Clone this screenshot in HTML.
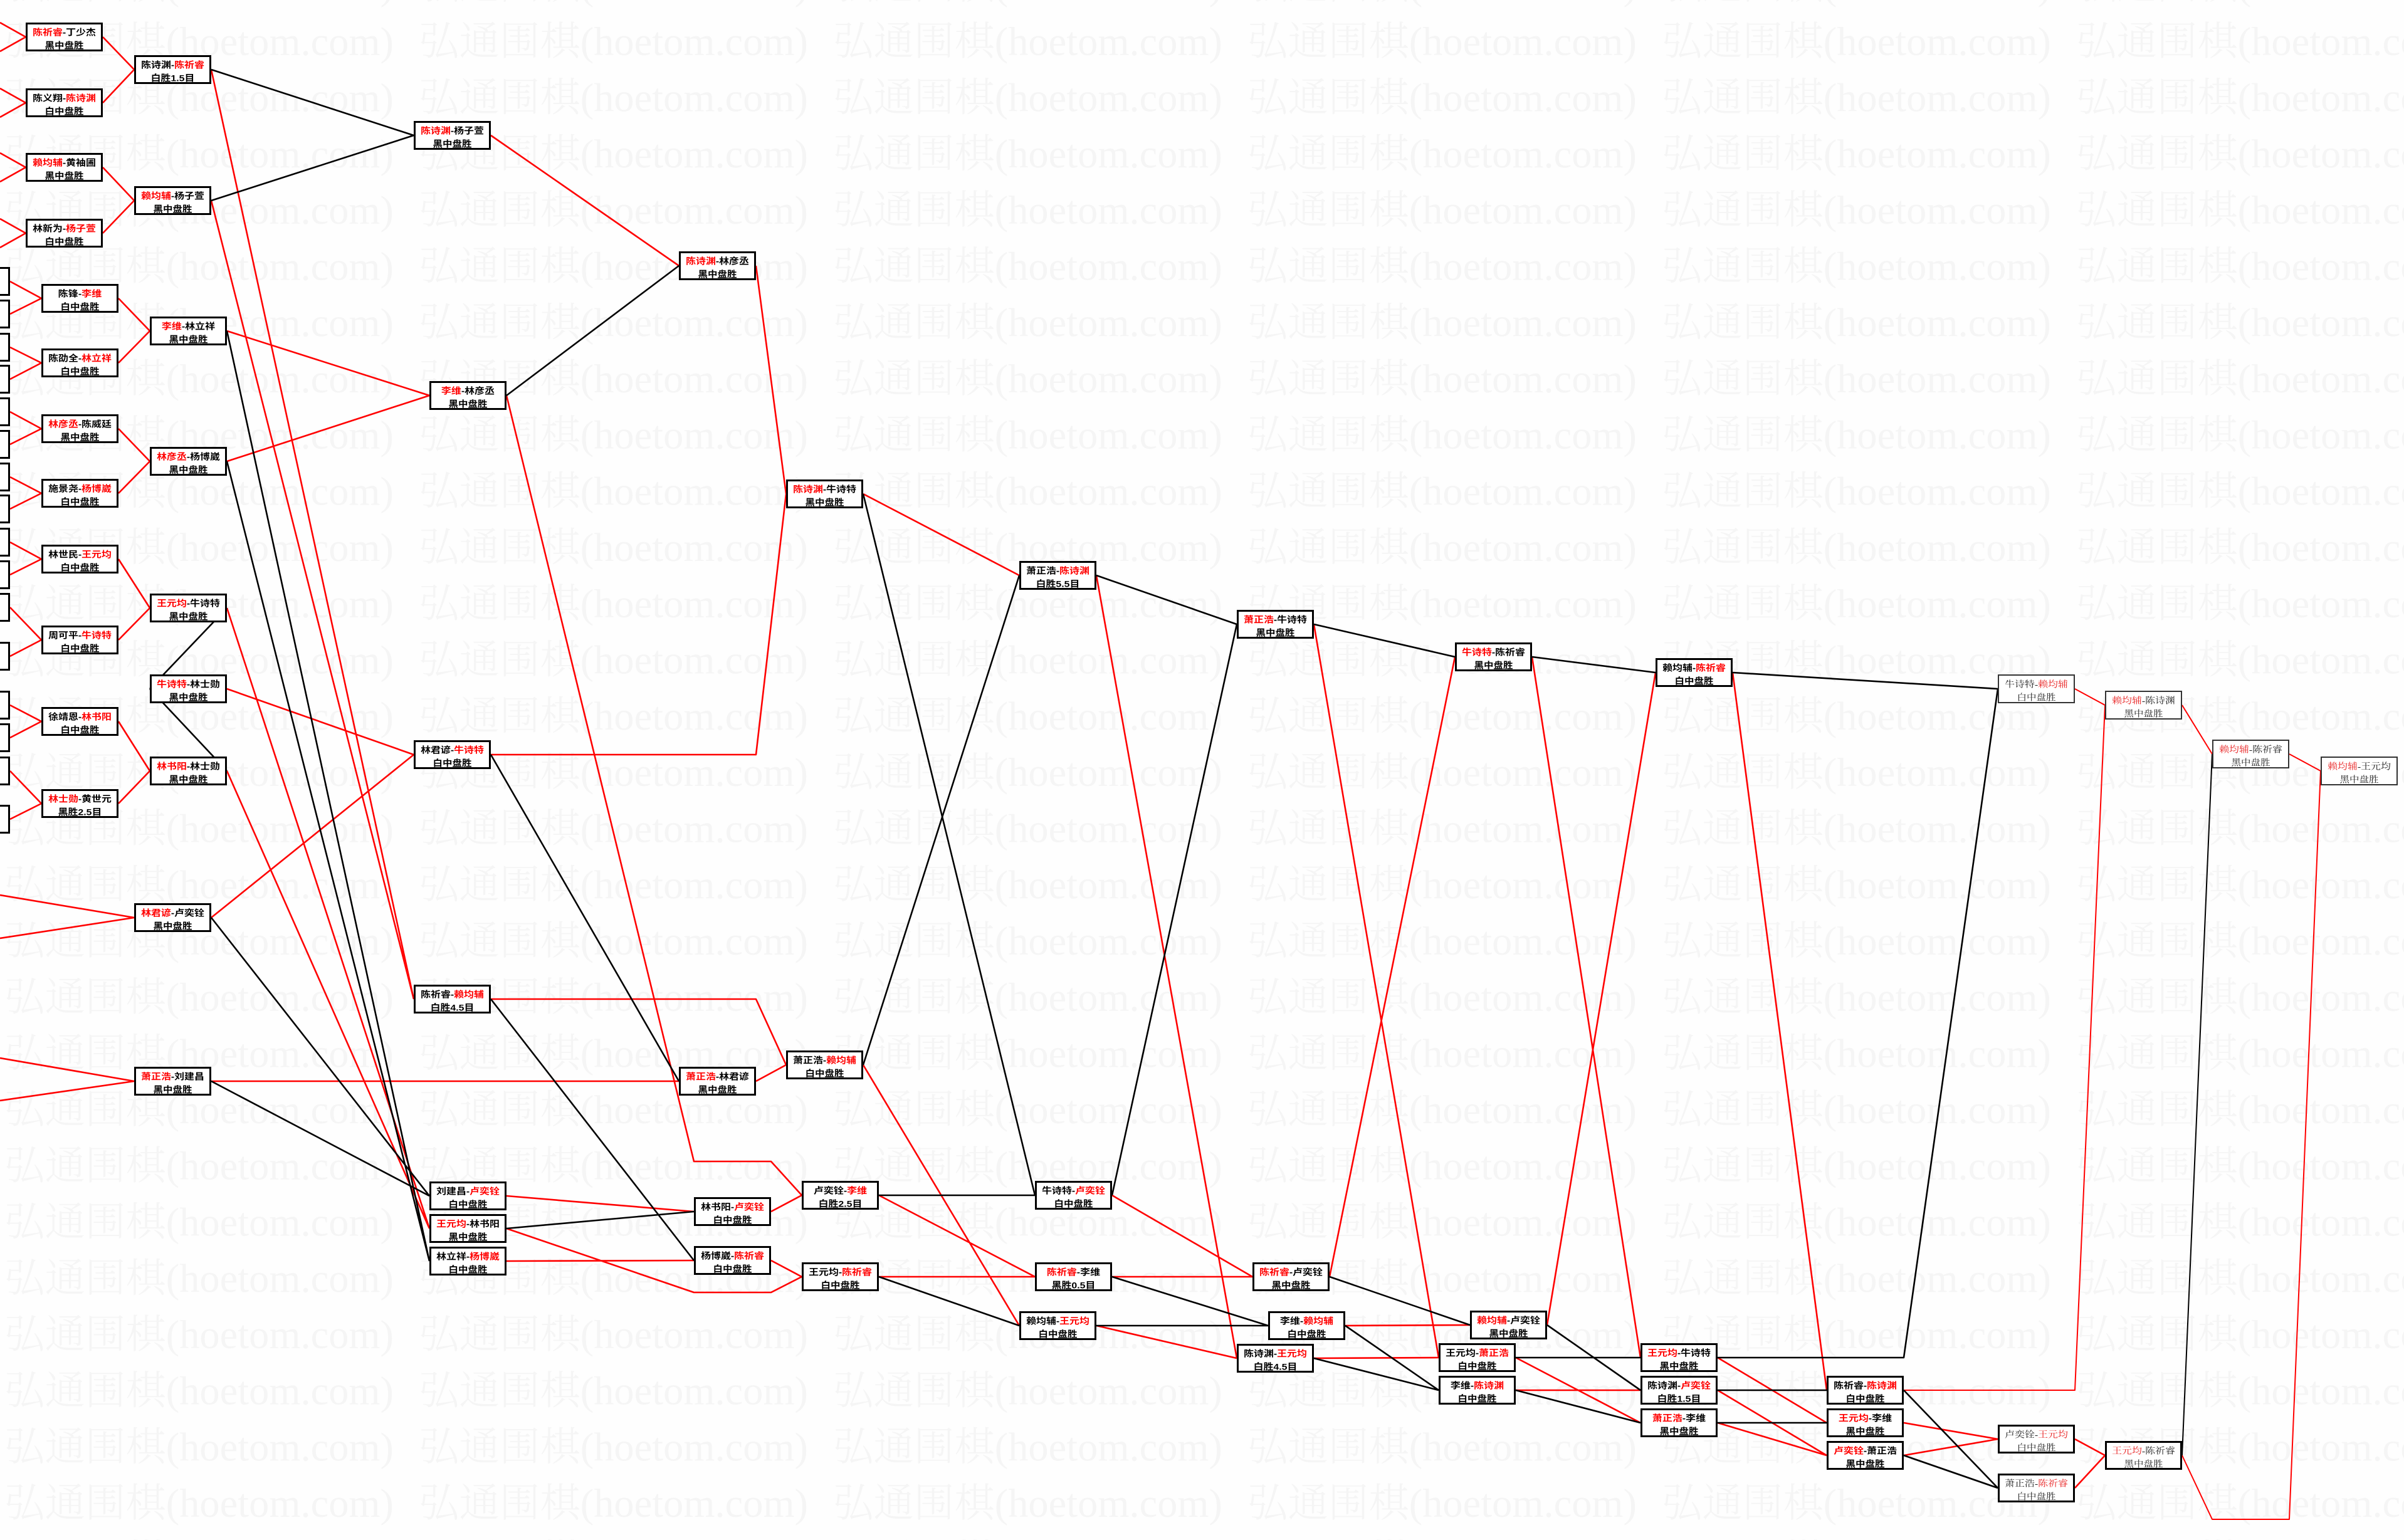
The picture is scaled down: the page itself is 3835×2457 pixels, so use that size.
<!DOCTYPE html>
<html><head><meta charset="utf-8"><title>bracket</title>
<style>
html,body{margin:0;padding:0;background:#fefefe;}
svg{display:block;}
.bx{fill:#fff;stroke:#000;stroke-width:3;}
.th{fill:#fff;stroke:#333;stroke-width:2;}
.t{font-family:"Liberation Sans","Noto Sans CJK SC",sans-serif;font-size:14px;font-weight:700;fill:#000;text-anchor:middle;}
.s{font-family:"Liberation Serif","Noto Serif CJK SC",serif;font-size:14px;font-weight:400;fill:#222;text-anchor:middle;}
.r{fill:#f00;}
.s .r{fill:#e82020;}
</style></head>
<body>
<svg width="3835" height="2457" viewBox="0 0 3835 2457" xmlns="http://www.w3.org/2000/svg">
<defs>
<pattern id="wm" x="7" y="23" width="661" height="89.7" patternUnits="userSpaceOnUse">
<text x="0" y="65" style="font-family:'Liberation Serif','Noto Serif CJK SC',serif;font-size:64px;font-weight:300;fill:#f5f5f5;text-anchor:start" textLength="621" lengthAdjust="spacingAndGlyphs">弘通围棋(hoetom.com)</text>
</pattern>
</defs>
<rect width="3835" height="2457" fill="#fefefe"/>
<rect width="3835" height="2457" fill="url(#wm)"/>

<!-- red lines -->
<path fill="none" stroke="#f00" stroke-width="2.6" stroke-linejoin="round" d="
M0 36L41 59 M0 82L41 59
M0 141L41 164 M0 187L41 164
M0 244L41 267 M0 290L41 267
M0 349L41 372 M0 395L41 372
M0 1428L214 1464 M0 1497L214 1464
M0 1688L214 1725 M0 1756L214 1725
M16 449L66 476 M16 501L66 476
M16 554L66 579 M16 605L66 579
M16 657L66 684 M16 709L66 684
M16 761L66 787 M16 812L66 787
M16 865L66 892 M16 917L66 892
M16 969L66 1021 M16 1047L66 1021
M16 1125L66 1151 M16 1177L66 1151
M16 1230L66 1282 M16 1307L66 1282
M164 59L214 111 M164 164L214 111
M164 267L214 320 M164 372L214 320
M337 111L660 1594 M337 320L660 1594
M189 476L239 528 M189 579L239 528
M189 684L239 736 M189 787L239 736
M189 892L239 970 M189 1021L239 970
M189 1151L239 1230 M189 1282L239 1230
M362 1099L660 1204
M362 528L685 631 M362 736L685 631
M362 970L685 1960 M362 1230L685 1960
M337 1464L660 1204
M337 1725L1083 1725
M783 216L1083 424
M808 631L1107 1853L1230 1853L1279 1907
M783 1204L1206 1204L1254 788
M1206 424L1254 788
M783 1594L1206 1594L1254 1699
M1206 1725L1254 1699
M808 1908L1107 1933
M808 1960L1107 2062L1230 2062L1279 2037
M808 2012L1107 2011
M1230 1933L1279 1907
M1230 2011L1279 2037
M1377 788L1626 918
M1377 1699L1626 2115
M1402 1907L1651 2037
M1402 2037L1651 2037
M1749 918L1973 2167
M1774 1907L1998 2037
M1774 2037L1998 2037
M1749 2115L1973 2167
M2096 996L2295 2166
M2121 2037L2321 1048
M2146 2115L2345 2114
M2096 2167L2295 2166
M2444 1048L2617 2166
M2468 2114L2641 1073
M2418 2166L2617 2270
M2418 2218L2617 2218
M2764 1073L2914 2218
M2740 2166L2914 2270
M2740 2218L2914 2322
M2740 2270L2914 2322
M3037 2270L3187 2296
M3037 2322L3187 2296
M3310 2296L3358 2322
M3310 2374L3358 2322
"/>
<path fill="none" stroke="#f00" stroke-width="2" stroke-linejoin="round" d="
M3037 2218L3310 2218L3358 1125
M3310 1099L3358 1125
M3481 1125L3529 1203
M3481 2322L3529 2424L3652 2424L3702 1230
M3652 1203L3702 1230
"/>
<!-- black lines -->
<path fill="none" stroke="#000" stroke-width="2.6" stroke-linejoin="round" d="
M337 111L660 216 M337 320L660 216
M362 970L239 1099 M362 1230L239 1099
M362 528L685 2012 M362 736L685 2012
M337 1464L685 1908
M337 1725L685 1908
M808 631L1083 424
M783 1204L1083 1725
M783 1594L1107 2011
M808 1960L1107 1933
M1377 788L1651 1907
M1377 1699L1626 918
M1402 1907L1651 1907
M1402 2037L1626 2115
M1749 918L1973 996
M1774 1907L1973 996
M1774 2037L2023 2115
M1749 2115L2023 2115
M2096 996L2321 1048
M2121 2037L2345 2114
M2146 2115L2295 2218
M2096 2167L2295 2218
M2444 1048L2641 1073
M2468 2114L2617 2218
M2418 2166L2617 2166
M2418 2218L2617 2270
M2764 1073L3187 1099
M2740 2166L3037 2166L3187 1099
M2740 2218L2914 2218
M2740 2270L2914 2270
M3037 2218L3187 2374
M3037 2322L3187 2374
"/>
<path fill="none" stroke="#000" stroke-width="2" d="M3481 2322L3529 1203"/>

<!-- partial boxes at left edge -->
<g class="bx">
<rect x="-105.5" y="427.5" width="120" height="43"/>
<rect x="-105.5" y="479.5" width="120" height="43"/>
<rect x="-105.5" y="532.5" width="120" height="43"/>
<rect x="-105.5" y="583.5" width="120" height="43"/>
<rect x="-105.5" y="635.5" width="120" height="43"/>
<rect x="-105.5" y="687.5" width="120" height="43"/>
<rect x="-105.5" y="739.5" width="120" height="43"/>
<rect x="-105.5" y="790.5" width="120" height="43"/>
<rect x="-105.5" y="843.5" width="120" height="43"/>
<rect x="-105.5" y="895.5" width="120" height="43"/>
<rect x="-105.5" y="947.5" width="120" height="43"/>
<rect x="-105.5" y="1025.5" width="120" height="43"/>
<rect x="-105.5" y="1103.5" width="120" height="43"/>
<rect x="-105.5" y="1155.5" width="120" height="43"/>
<rect x="-105.5" y="1208.5" width="120" height="43"/>
<rect x="-105.5" y="1285.5" width="120" height="43"/>
</g>

<!-- main boxes -->
<g class="bx">
<rect x="42.5" y="37.5" width="120" height="43"/>
<rect x="42.5" y="142.5" width="120" height="43"/>
<rect x="42.5" y="245.5" width="120" height="43"/>
<rect x="42.5" y="350.5" width="120" height="43"/>
<rect x="215.5" y="89.5" width="120" height="43"/>
<rect x="215.5" y="298.5" width="120" height="43"/>
<rect x="215.5" y="1442.5" width="120" height="43"/>
<rect x="215.5" y="1703.5" width="120" height="43"/>
<rect x="67.5" y="454.5" width="120" height="43"/>
<rect x="67.5" y="557.5" width="120" height="43"/>
<rect x="67.5" y="662.5" width="120" height="43"/>
<rect x="67.5" y="765.5" width="120" height="43"/>
<rect x="67.5" y="870.5" width="120" height="43"/>
<rect x="67.5" y="999.5" width="120" height="43"/>
<rect x="67.5" y="1129.5" width="120" height="43"/>
<rect x="67.5" y="1260.5" width="120" height="43"/>
<rect x="240.5" y="506.5" width="120" height="43"/>
<rect x="240.5" y="714.5" width="120" height="43"/>
<rect x="240.5" y="948.5" width="120" height="43"/>
<rect x="240.5" y="1077.5" width="120" height="43"/>
<rect x="240.5" y="1208.5" width="120" height="43"/>
<rect x="661.5" y="194.5" width="120" height="43"/>
<rect x="661.5" y="1182.5" width="120" height="43"/>
<rect x="661.5" y="1572.5" width="120" height="43"/>
<rect x="686.5" y="609.5" width="120" height="43"/>
<rect x="686.5" y="1886.5" width="120" height="43"/>
<rect x="686.5" y="1938.5" width="120" height="43"/>
<rect x="686.5" y="1990.5" width="120" height="43"/>
<rect x="1084.5" y="402.5" width="120" height="43"/>
<rect x="1084.5" y="1703.5" width="120" height="43"/>
<rect x="1108.5" y="1911.5" width="120" height="43"/>
<rect x="1108.5" y="1989.5" width="120" height="43"/>
<rect x="1255.5" y="766.5" width="120" height="43"/>
<rect x="1255.5" y="1677.5" width="120" height="43"/>
<rect x="1280.5" y="1885.5" width="120" height="43"/>
<rect x="1280.5" y="2015.5" width="120" height="43"/>
<rect x="1627.5" y="896.5" width="120" height="43"/>
<rect x="1652.5" y="1885.5" width="120" height="43"/>
<rect x="1652.5" y="2015.5" width="120" height="43"/>
<rect x="1627.5" y="2093.5" width="120" height="43"/>
<rect x="1974.5" y="974.5" width="120" height="43"/>
<rect x="1999.5" y="2015.5" width="120" height="43"/>
<rect x="2024.5" y="2093.5" width="120" height="43"/>
<rect x="1974.5" y="2145.5" width="120" height="43"/>
<rect x="2322.5" y="1026.5" width="120" height="43"/>
<rect x="2346.5" y="2092.5" width="120" height="43"/>
<rect x="2296.5" y="2144.5" width="120" height="43"/>
<rect x="2296.5" y="2196.5" width="120" height="43"/>
<rect x="2642.5" y="1051.5" width="120" height="43"/>
<rect x="2618.5" y="2144.5" width="120" height="43"/>
<rect x="2618.5" y="2196.5" width="120" height="43"/>
<rect x="2618.5" y="2248.5" width="120" height="43"/>
<rect x="2915.5" y="2196.5" width="120" height="43"/>
<rect x="2915.5" y="2248.5" width="120" height="43"/>
<rect x="2915.5" y="2300.5" width="120" height="43"/>
<rect x="3188.5" y="2274.5" width="120" height="43"/>
<rect x="3188.5" y="2352.5" width="120" height="43"/>
<rect x="3359.5" y="2300.5" width="120" height="43"/>
</g>
<g class="th">
<rect x="3188" y="1077" width="121" height="44"/>
<rect x="3359" y="1103" width="121" height="44"/>
<rect x="3530" y="1181" width="121" height="44"/>
<rect x="3703" y="1208" width="121" height="44"/>
</g>

<!-- box text -->
<g class="t">
<text x="102.5" y="56.5" textLength="100.75" lengthAdjust="spacingAndGlyphs"><tspan class="r">陈祈睿</tspan>-丁少杰</text>
<text x="102.5" y="77.5" textLength="62" lengthAdjust="spacingAndGlyphs">黑中盘胜</text>
<text x="102.5" y="161.5" textLength="100.75" lengthAdjust="spacingAndGlyphs">陈义翔-<tspan class="r">陈诗渊</tspan></text>
<text x="102.5" y="182.5" textLength="62" lengthAdjust="spacingAndGlyphs">白中盘胜</text>
<text x="102.5" y="264.5" textLength="100.75" lengthAdjust="spacingAndGlyphs"><tspan class="r">赖均辅</tspan>-黄袖圃</text>
<text x="102.5" y="285.5" textLength="62" lengthAdjust="spacingAndGlyphs">黑中盘胜</text>
<text x="102.5" y="369.5" textLength="100.75" lengthAdjust="spacingAndGlyphs">林新为-<tspan class="r">杨子萱</tspan></text>
<text x="102.5" y="390.5" textLength="62" lengthAdjust="spacingAndGlyphs">白中盘胜</text>

<text x="275.5" y="108.5" textLength="100.75" lengthAdjust="spacingAndGlyphs">陈诗渊-<tspan class="r">陈祈睿</tspan></text>
<text x="275.5" y="129.5" textLength="69.75" lengthAdjust="spacingAndGlyphs">白胜1.5目</text>
<text x="275.5" y="317.5" textLength="100.75" lengthAdjust="spacingAndGlyphs"><tspan class="r">赖均辅</tspan>-杨子萱</text>
<text x="275.5" y="338.5" textLength="62" lengthAdjust="spacingAndGlyphs">黑中盘胜</text>
<text x="275.5" y="1461.5" textLength="100.75" lengthAdjust="spacingAndGlyphs"><tspan class="r">林君谚</tspan>-卢奕铨</text>
<text x="275.5" y="1482.5" textLength="62" lengthAdjust="spacingAndGlyphs">黑中盘胜</text>
<text x="275.5" y="1722.5" textLength="100.75" lengthAdjust="spacingAndGlyphs"><tspan class="r">萧正浩</tspan>-刘建昌</text>
<text x="275.5" y="1743.5" textLength="62" lengthAdjust="spacingAndGlyphs">黑中盘胜</text>

<text x="127.5" y="473.5" textLength="69.75" lengthAdjust="spacingAndGlyphs">陈锋-<tspan class="r">李维</tspan></text>
<text x="127.5" y="494.5" textLength="62" lengthAdjust="spacingAndGlyphs">白中盘胜</text>
<text x="127.5" y="576.5" textLength="100.75" lengthAdjust="spacingAndGlyphs">陈劭全-<tspan class="r">林立祥</tspan></text>
<text x="127.5" y="597.5" textLength="62" lengthAdjust="spacingAndGlyphs">白中盘胜</text>
<text x="127.5" y="681.5" textLength="100.75" lengthAdjust="spacingAndGlyphs"><tspan class="r">林彦丞</tspan>-陈威廷</text>
<text x="127.5" y="702.5" textLength="62" lengthAdjust="spacingAndGlyphs">黑中盘胜</text>
<text x="127.5" y="784.5" textLength="100.75" lengthAdjust="spacingAndGlyphs">施景尧-<tspan class="r">杨博崴</tspan></text>
<text x="127.5" y="805.5" textLength="62" lengthAdjust="spacingAndGlyphs">白中盘胜</text>
<text x="127.5" y="889.5" textLength="100.75" lengthAdjust="spacingAndGlyphs">林世民-<tspan class="r">王元均</tspan></text>
<text x="127.5" y="910.5" textLength="62" lengthAdjust="spacingAndGlyphs">白中盘胜</text>
<text x="127.5" y="1018.5" textLength="100.75" lengthAdjust="spacingAndGlyphs">周可平-<tspan class="r">牛诗特</tspan></text>
<text x="127.5" y="1039.5" textLength="62" lengthAdjust="spacingAndGlyphs">白中盘胜</text>
<text x="127.5" y="1148.5" textLength="100.75" lengthAdjust="spacingAndGlyphs">徐靖恩-<tspan class="r">林书阳</tspan></text>
<text x="127.5" y="1169.5" textLength="62" lengthAdjust="spacingAndGlyphs">白中盘胜</text>
<text x="127.5" y="1279.5" textLength="100.75" lengthAdjust="spacingAndGlyphs"><tspan class="r">林士勋</tspan>-黄世元</text>
<text x="127.5" y="1300.5" textLength="69.75" lengthAdjust="spacingAndGlyphs">黑胜2.5目</text>

<text x="300.5" y="525.5" textLength="85.25" lengthAdjust="spacingAndGlyphs"><tspan class="r">李维</tspan>-林立祥</text>
<text x="300.5" y="546.5" textLength="62" lengthAdjust="spacingAndGlyphs">黑中盘胜</text>
<text x="300.5" y="733.5" textLength="100.75" lengthAdjust="spacingAndGlyphs"><tspan class="r">林彦丞</tspan>-杨博崴</text>
<text x="300.5" y="754.5" textLength="62" lengthAdjust="spacingAndGlyphs">黑中盘胜</text>
<text x="300.5" y="967.5" textLength="100.75" lengthAdjust="spacingAndGlyphs"><tspan class="r">王元均</tspan>-牛诗特</text>
<text x="300.5" y="988.5" textLength="62" lengthAdjust="spacingAndGlyphs">黑中盘胜</text>
<text x="300.5" y="1096.5" textLength="100.75" lengthAdjust="spacingAndGlyphs"><tspan class="r">牛诗特</tspan>-林士勋</text>
<text x="300.5" y="1117.5" textLength="62" lengthAdjust="spacingAndGlyphs">黑中盘胜</text>
<text x="300.5" y="1227.5" textLength="100.75" lengthAdjust="spacingAndGlyphs"><tspan class="r">林书阳</tspan>-林士勋</text>
<text x="300.5" y="1248.5" textLength="62" lengthAdjust="spacingAndGlyphs">黑中盘胜</text>

<text x="721.5" y="213.5" textLength="100.75" lengthAdjust="spacingAndGlyphs"><tspan class="r">陈诗渊</tspan>-杨子萱</text>
<text x="721.5" y="234.5" textLength="62" lengthAdjust="spacingAndGlyphs">黑中盘胜</text>
<text x="721.5" y="1201.5" textLength="100.75" lengthAdjust="spacingAndGlyphs">林君谚-<tspan class="r">牛诗特</tspan></text>
<text x="721.5" y="1222.5" textLength="62" lengthAdjust="spacingAndGlyphs">白中盘胜</text>
<text x="721.5" y="1591.5" textLength="100.75" lengthAdjust="spacingAndGlyphs">陈祈睿-<tspan class="r">赖均辅</tspan></text>
<text x="721.5" y="1612.5" textLength="69.75" lengthAdjust="spacingAndGlyphs">白胜4.5目</text>

<text x="746.5" y="628.5" textLength="85.25" lengthAdjust="spacingAndGlyphs"><tspan class="r">李维</tspan>-林彦丞</text>
<text x="746.5" y="649.5" textLength="62" lengthAdjust="spacingAndGlyphs">黑中盘胜</text>
<text x="746.5" y="1905.5" textLength="100.75" lengthAdjust="spacingAndGlyphs">刘建昌-<tspan class="r">卢奕铨</tspan></text>
<text x="746.5" y="1926.5" textLength="62" lengthAdjust="spacingAndGlyphs">白中盘胜</text>
<text x="746.5" y="1957.5" textLength="100.75" lengthAdjust="spacingAndGlyphs"><tspan class="r">王元均</tspan>-林书阳</text>
<text x="746.5" y="1978.5" textLength="62" lengthAdjust="spacingAndGlyphs">黑中盘胜</text>
<text x="746.5" y="2009.5" textLength="100.75" lengthAdjust="spacingAndGlyphs">林立祥-<tspan class="r">杨博崴</tspan></text>
<text x="746.5" y="2030.5" textLength="62" lengthAdjust="spacingAndGlyphs">白中盘胜</text>

<text x="1144.5" y="421.5" textLength="100.75" lengthAdjust="spacingAndGlyphs"><tspan class="r">陈诗渊</tspan>-林彦丞</text>
<text x="1144.5" y="442.5" textLength="62" lengthAdjust="spacingAndGlyphs">黑中盘胜</text>
<text x="1144.5" y="1722.5" textLength="100.75" lengthAdjust="spacingAndGlyphs"><tspan class="r">萧正浩</tspan>-林君谚</text>
<text x="1144.5" y="1743.5" textLength="62" lengthAdjust="spacingAndGlyphs">黑中盘胜</text>

<text x="1168.5" y="1930.5" textLength="100.75" lengthAdjust="spacingAndGlyphs">林书阳-<tspan class="r">卢奕铨</tspan></text>
<text x="1168.5" y="1951.5" textLength="62" lengthAdjust="spacingAndGlyphs">白中盘胜</text>
<text x="1168.5" y="2008.5" textLength="100.75" lengthAdjust="spacingAndGlyphs">杨博崴-<tspan class="r">陈祈睿</tspan></text>
<text x="1168.5" y="2029.5" textLength="62" lengthAdjust="spacingAndGlyphs">白中盘胜</text>

<text x="1315.5" y="785.5" textLength="100.75" lengthAdjust="spacingAndGlyphs"><tspan class="r">陈诗渊</tspan>-牛诗特</text>
<text x="1315.5" y="806.5" textLength="62" lengthAdjust="spacingAndGlyphs">黑中盘胜</text>
<text x="1315.5" y="1696.5" textLength="100.75" lengthAdjust="spacingAndGlyphs">萧正浩-<tspan class="r">赖均辅</tspan></text>
<text x="1315.5" y="1717.5" textLength="62" lengthAdjust="spacingAndGlyphs">白中盘胜</text>

<text x="1340.5" y="1904.5" textLength="85.25" lengthAdjust="spacingAndGlyphs">卢奕铨-<tspan class="r">李维</tspan></text>
<text x="1340.5" y="1925.5" textLength="69.75" lengthAdjust="spacingAndGlyphs">白胜2.5目</text>
<text x="1340.5" y="2034.5" textLength="100.75" lengthAdjust="spacingAndGlyphs">王元均-<tspan class="r">陈祈睿</tspan></text>
<text x="1340.5" y="2055.5" textLength="62" lengthAdjust="spacingAndGlyphs">白中盘胜</text>

<text x="1687.5" y="915.5" textLength="100.75" lengthAdjust="spacingAndGlyphs">萧正浩-<tspan class="r">陈诗渊</tspan></text>
<text x="1687.5" y="936.5" textLength="69.75" lengthAdjust="spacingAndGlyphs">白胜5.5目</text>
<text x="1712.5" y="1904.5" textLength="100.75" lengthAdjust="spacingAndGlyphs">牛诗特-<tspan class="r">卢奕铨</tspan></text>
<text x="1712.5" y="1925.5" textLength="62" lengthAdjust="spacingAndGlyphs">白中盘胜</text>
<text x="1712.5" y="2034.5" textLength="85.25" lengthAdjust="spacingAndGlyphs"><tspan class="r">陈祈睿</tspan>-李维</text>
<text x="1712.5" y="2055.5" textLength="69.75" lengthAdjust="spacingAndGlyphs">黑胜0.5目</text>
<text x="1687.5" y="2112.5" textLength="100.75" lengthAdjust="spacingAndGlyphs">赖均辅-<tspan class="r">王元均</tspan></text>
<text x="1687.5" y="2133.5" textLength="62" lengthAdjust="spacingAndGlyphs">白中盘胜</text>

<text x="2034.5" y="993.5" textLength="100.75" lengthAdjust="spacingAndGlyphs"><tspan class="r">萧正浩</tspan>-牛诗特</text>
<text x="2034.5" y="1014.5" textLength="62" lengthAdjust="spacingAndGlyphs">黑中盘胜</text>
<text x="2059.5" y="2034.5" textLength="100.75" lengthAdjust="spacingAndGlyphs"><tspan class="r">陈祈睿</tspan>-卢奕铨</text>
<text x="2059.5" y="2055.5" textLength="62" lengthAdjust="spacingAndGlyphs">黑中盘胜</text>
<text x="2084.5" y="2112.5" textLength="85.25" lengthAdjust="spacingAndGlyphs">李维-<tspan class="r">赖均辅</tspan></text>
<text x="2084.5" y="2133.5" textLength="62" lengthAdjust="spacingAndGlyphs">白中盘胜</text>
<text x="2034.5" y="2164.5" textLength="100.75" lengthAdjust="spacingAndGlyphs">陈诗渊-<tspan class="r">王元均</tspan></text>
<text x="2034.5" y="2185.5" textLength="69.75" lengthAdjust="spacingAndGlyphs">白胜4.5目</text>

<text x="2382.5" y="1045.5" textLength="100.75" lengthAdjust="spacingAndGlyphs"><tspan class="r">牛诗特</tspan>-陈祈睿</text>
<text x="2382.5" y="1066.5" textLength="62" lengthAdjust="spacingAndGlyphs">黑中盘胜</text>
<text x="2406.5" y="2111.5" textLength="100.75" lengthAdjust="spacingAndGlyphs"><tspan class="r">赖均辅</tspan>-卢奕铨</text>
<text x="2406.5" y="2132.5" textLength="62" lengthAdjust="spacingAndGlyphs">黑中盘胜</text>
<text x="2356.5" y="2163.5" textLength="100.75" lengthAdjust="spacingAndGlyphs">王元均-<tspan class="r">萧正浩</tspan></text>
<text x="2356.5" y="2184.5" textLength="62" lengthAdjust="spacingAndGlyphs">白中盘胜</text>
<text x="2356.5" y="2215.5" textLength="85.25" lengthAdjust="spacingAndGlyphs">李维-<tspan class="r">陈诗渊</tspan></text>
<text x="2356.5" y="2236.5" textLength="62" lengthAdjust="spacingAndGlyphs">白中盘胜</text>

<text x="2702.5" y="1070.5" textLength="100.75" lengthAdjust="spacingAndGlyphs">赖均辅-<tspan class="r">陈祈睿</tspan></text>
<text x="2702.5" y="1091.5" textLength="62" lengthAdjust="spacingAndGlyphs">白中盘胜</text>
<text x="2678.5" y="2163.5" textLength="100.75" lengthAdjust="spacingAndGlyphs"><tspan class="r">王元均</tspan>-牛诗特</text>
<text x="2678.5" y="2184.5" textLength="62" lengthAdjust="spacingAndGlyphs">黑中盘胜</text>
<text x="2678.5" y="2215.5" textLength="100.75" lengthAdjust="spacingAndGlyphs">陈诗渊-<tspan class="r">卢奕铨</tspan></text>
<text x="2678.5" y="2236.5" textLength="69.75" lengthAdjust="spacingAndGlyphs">白胜1.5目</text>
<text x="2678.5" y="2267.5" textLength="85.25" lengthAdjust="spacingAndGlyphs"><tspan class="r">萧正浩</tspan>-李维</text>
<text x="2678.5" y="2288.5" textLength="62" lengthAdjust="spacingAndGlyphs">黑中盘胜</text>

<text x="2975.5" y="2215.5" textLength="100.75" lengthAdjust="spacingAndGlyphs">陈祈睿-<tspan class="r">陈诗渊</tspan></text>
<text x="2975.5" y="2236.5" textLength="62" lengthAdjust="spacingAndGlyphs">白中盘胜</text>
<text x="2975.5" y="2267.5" textLength="85.25" lengthAdjust="spacingAndGlyphs"><tspan class="r">王元均</tspan>-李维</text>
<text x="2975.5" y="2288.5" textLength="62" lengthAdjust="spacingAndGlyphs">黑中盘胜</text>
<text x="2975.5" y="2319.5" textLength="100.75" lengthAdjust="spacingAndGlyphs"><tspan class="r">卢奕铨</tspan>-萧正浩</text>
<text x="2975.5" y="2340.5" textLength="62" lengthAdjust="spacingAndGlyphs">黑中盘胜</text>
</g>
<g class="s">
<text x="3248.5" y="2293.5" textLength="100.75" lengthAdjust="spacingAndGlyphs">卢奕铨-<tspan class="r">王元均</tspan></text>
<text x="3248.5" y="2314.5" textLength="62" lengthAdjust="spacingAndGlyphs">白中盘胜</text>
<text x="3248.5" y="2371.5" textLength="100.75" lengthAdjust="spacingAndGlyphs">萧正浩-<tspan class="r">陈祈睿</tspan></text>
<text x="3248.5" y="2392.5" textLength="62" lengthAdjust="spacingAndGlyphs">白中盘胜</text>
<text x="3419.5" y="2319.5" textLength="100.75" lengthAdjust="spacingAndGlyphs"><tspan class="r">王元均</tspan>-陈祈睿</text>
<text x="3419.5" y="2340.5" textLength="62" lengthAdjust="spacingAndGlyphs">黑中盘胜</text>

<text x="3248.5" y="1096.5" textLength="100.75" lengthAdjust="spacingAndGlyphs">牛诗特-<tspan class="r">赖均辅</tspan></text>
<text x="3248.5" y="1117.5" textLength="62" lengthAdjust="spacingAndGlyphs">白中盘胜</text>
<text x="3419.5" y="1122.5" textLength="100.75" lengthAdjust="spacingAndGlyphs"><tspan class="r">赖均辅</tspan>-陈诗渊</text>
<text x="3419.5" y="1143.5" textLength="62" lengthAdjust="spacingAndGlyphs">黑中盘胜</text>
<text x="3590.5" y="1200.5" textLength="100.75" lengthAdjust="spacingAndGlyphs"><tspan class="r">赖均辅</tspan>-陈祈睿</text>
<text x="3590.5" y="1221.5" textLength="62" lengthAdjust="spacingAndGlyphs">黑中盘胜</text>
<text x="3763.5" y="1227.5" textLength="100.75" lengthAdjust="spacingAndGlyphs"><tspan class="r">赖均辅</tspan>-王元均</text>
<text x="3763.5" y="1248.5" textLength="62" lengthAdjust="spacingAndGlyphs">黑中盘胜</text>
</g>
</svg>
</body></html>
